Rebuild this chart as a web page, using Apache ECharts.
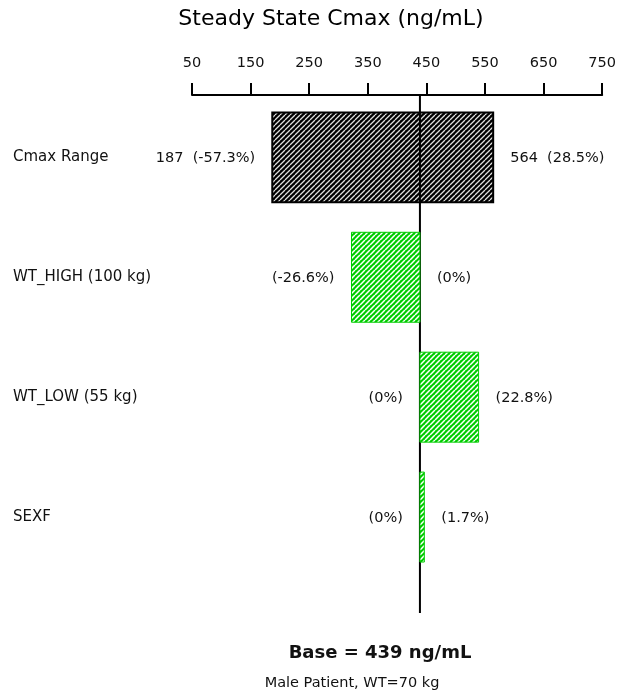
<!DOCTYPE html>
<html><head><meta charset="utf-8">
<script src="https://cdn.jsdelivr.net/npm/echarts@6/dist/echarts.min.js"></script>
<style>html,body{margin:0;padding:0;background:#fff}#c{width:619px;height:698px}</style>
</head><body><div id="c"></div>
<script>
// ---- data ----
const categories = ['Cmax Range', 'WT_HIGH (100 kg)', 'WT_LOW (55 kg)', 'SEXF'];
const lowValues = [187, 322.2, 439, 439];
const highValues = [564, 439, 539.1, 446.5];
const leftLabels = ['187  (-57.3%)', '(-26.6%)', '(0%)', '(0%)'];
const rightLabels = ['564  (28.5%)', '(0%)', '(22.8%)', '(1.7%)'];
const tickValues = [50, 150, 250, 350, 450, 550, 650, 750];
const baseValue = 439;
const titleText = 'Steady State Cmax (ng/mL)';
const baseText = 'Base = ' + baseValue + ' ng/mL';
const subText = 'Male Patient, WT=70 kg';

// ---- style ----
const FONT = '"DejaVu Sans", "Liberation Sans", Arial, sans-serif';
const yMin = 0.48, yMax = 4.8, barHeight = 0.75, labelGap = 17;

function hatch(bg, fg, size, w) {
  const c = document.createElement('canvas');
  c.width = size; c.height = size;
  const g = c.getContext('2d');
  g.fillStyle = bg; g.fillRect(0, 0, size, size);
  g.strokeStyle = fg; g.lineWidth = w;
  g.beginPath();
  for (const o of [-size, 0, size]) { g.moveTo(o, size); g.lineTo(o + size, 0); }
  g.stroke();
  return c;
}
const blackHatch = hatch('#000', '#e0e0e0', 5, 1.3);
const greenHatch = hatch('#00cc00', '#ffffff', 5, 1.5);

const rows = categories.map((c, i) => [lowValues[i], highValues[i], i + 1, i]);

function barItem(params, api) {
  const idx = api.value(3);
  const lo = api.value(0), hi = api.value(1), row = api.value(2);
  const p0 = api.coord([lo, row]);
  const p1 = api.coord([hi, row]);
  const h = api.size([0, barHeight])[1];
  const isRange = idx === 0;
  const textStyle = { font: '14.5px ' + FONT, fill: '#111', verticalAlign: 'middle' };
  return {
    type: 'group',
    children: [
      {
        type: 'rect',
        shape: { x: p0[0], y: p0[1] - h / 2, width: Math.max(p1[0] - p0[0], 1), height: h },
        style: {
          fill: { image: isRange ? blackHatch : greenHatch, repeat: 'repeat' },
          stroke: isRange ? '#000' : '#00cc00',
          lineWidth: isRange ? 2 : 1
        }
      },
      { type: 'text', style: Object.assign({ text: leftLabels[idx], x: p0[0] - labelGap, y: p0[1] + 1, align: 'right' }, textStyle) },
      { type: 'text', style: Object.assign({ text: rightLabels[idx], x: p1[0] + labelGap, y: p1[1] + 1, align: 'left' }, textStyle) }
    ]
  };
}

const chart = echarts.init(document.getElementById('c'), null, { renderer: 'canvas' });
chart.setOption({
  backgroundColor: '#fff',
  animation: false,
  grid: { left: 192, right: 14, top: 95, bottom: 85 },
  xAxis: {
    type: 'value', position: 'top', min: 50, max: 750,
    axisLine: { show: true, lineStyle: { color: '#000', width: 2 } },
    axisTick: { show: true, length: 12, lineStyle: { color: '#000', width: 2 }, customValues: tickValues },
    axisLabel: { customValues: tickValues, margin: 24, color: '#111', fontSize: 14.5, fontFamily: FONT },
    splitLine: { show: false }
  },
  yAxis: {
    type: 'value', inverse: true, min: yMin, max: yMax,
    axisLine: { show: false }, axisTick: { show: false }, splitLine: { show: false },
    axisLabel: {
      customValues: categories.map((c, i) => i + 1),
      formatter: v => categories[Math.round(v) - 1] || '',
      align: 'left', margin: 179, color: '#111', fontSize: 15, fontFamily: FONT
    }
  },
  graphic: [
    { type: 'text', x: 331, y: 19, style: { text: titleText, font: '22px ' + FONT, fill: '#000', align: 'center', verticalAlign: 'middle' } },
    { type: 'text', x: 380, y: 653, style: { text: baseText, font: 'bold 18px ' + FONT, fill: '#111', align: 'center', verticalAlign: 'middle' } },
    { type: 'text', x: 352, y: 683, style: { text: subText, font: '14.5px ' + FONT, fill: '#111', align: 'center', verticalAlign: 'middle' } }
  ],
  series: [
    { type: 'custom', renderItem: barItem, data: rows.slice(0, 1), clip: false, z: 1 },
    {
      type: 'custom', clip: false, z: 2, data: [[baseValue]],
      renderItem: (params, api) => {
        const a = api.coord([api.value(0), yMin]);
        const b = api.coord([api.value(0), yMax]);
        return { type: 'line', shape: { x1: a[0], y1: a[1], x2: b[0], y2: b[1] }, style: { stroke: '#000', lineWidth: 2 } };
      }
    },
    { type: 'custom', renderItem: barItem, data: rows.slice(1), clip: false, z: 3 }
  ]
});
</script>
</body></html>
